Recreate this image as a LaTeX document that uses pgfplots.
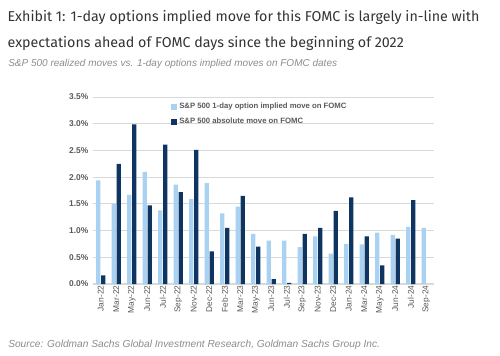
\documentclass[border=0pt]{standalone}
\usepackage{pgfplots}
\pgfplotsset{compat=1.18}
\usepackage{fontspec}
\setmainfont{Liberation Sans}
\newfontfamily\titlefont{Fira Sans}
\definecolor{lightb}{HTML}{A9D1F1}
\definecolor{darkb}{HTML}{0E3461}
\definecolor{txtgrey}{HTML}{595959}
\definecolor{gridgrey}{HTML}{D9D9D9}
\definecolor{titlegrey}{HTML}{333333}
\definecolor{subgrey}{HTML}{8C8C8C}
\begin{document}
\begin{tikzpicture}
\path[use as bounding box] (0pt,0pt) rectangle (375pt,266.25pt);
\node[anchor=west,inner sep=0,text=titlegrey,font=\titlefont\fontsize{10.7}{12}\selectfont] at (5.5pt,253pt) {Exhibit 1: 1-day options implied move for this FOMC is largely in-line with};
\node[anchor=west,inner sep=0,text=titlegrey,font=\titlefont\fontsize{10.7}{12}\selectfont] at (5.5pt,234pt) {expectations ahead of FOMC days since the beginning of 2022};
\node[anchor=west,inner sep=0,text=subgrey,font=\itshape\fontsize{7.5}{9}\selectfont] at (6pt,218.5pt) {S\&P 500 realized moves vs. 1-day options implied moves on FOMC dates};
\node[anchor=west,inner sep=0,text=subgrey,font=\itshape\fontsize{7.65}{9}\selectfont] at (6pt,7.5pt) {Source: Goldman Sachs Global Investment Research, Goldman Sachs Group Inc.};
\begin{axis}[
  at={(69.75pt,53.25pt)}, anchor=south west,
  scale only axis, width=255.75pt, height=140.25pt,
  ybar=0.5pt, bar width=3.3pt,
  xmin=-0.5, xmax=21.5, ymin=0, ymax=3.5,
  xtick={0,...,21},
  xticklabels={Jan-22,Mar-22,May-22,Jun-22,Jul-22,Sep-22,Nov-22,Dec-22,Feb-23,Mar-23,May-23,Jun-23,Jul-23,Sep-23,Nov-23,Dec-23,Jan-24,Mar-24,May-24,Jun-24,Jul-24,Sep-24},
  x tick label style={rotate=90,anchor=east,font=\fontsize{6.3}{7}\selectfont,text=txtgrey,inner sep=1pt},
  ytick={0,0.5,...,3.5},
  yticklabels={0.0\%,0.5\%,1.0\%,1.5\%,2.0\%,2.5\%,3.0\%,3.5\%},
  y tick label style={font=\bfseries\fontsize{6.3}{7}\selectfont,text=txtgrey},
  ymajorgrids, grid style={gridgrey,line width=0.6pt},
  axis x line*=bottom, axis y line*=left,
  x axis line style={gridgrey,line width=0.8pt},
  y axis line style={draw=none},
  major tick length=0pt,
  tick style={draw=none},
  legend style={at={(0.225,0.99)},anchor=north west,draw=none,fill=none,
    font=\bfseries\fontsize{5.8}{7}\selectfont,text=txtgrey,row sep=1.5pt,inner sep=1pt},
  legend cell align=left,
  legend image code/.code={\fill[#1] (0pt,-2pt) rectangle (4pt,2pt);},
]
\addplot[fill=lightb,draw=none] coordinates {
(0,1.94) (1,1.50) (2,1.67) (3,2.10) (4,1.38) (5,1.86) (6,1.59) (7,1.89) (8,1.32) (9,1.45) (10,0.94)
(11,0.81) (12,0.81) (13,0.69) (14,0.89) (15,0.57) (16,0.75) (17,0.74) (18,0.96) (19,0.92) (20,1.07) (21,1.05)};
\addplot[fill=darkb,draw=none] coordinates {
(0,0.16) (1,2.25) (2,2.99) (3,1.47) (4,2.61) (5,1.72) (6,2.51) (7,0.61) (8,1.05) (9,1.65) (10,0.70)
(11,0.09) (12,0.02) (13,0.94) (14,1.05) (15,1.37) (16,1.62) (17,0.89) (18,0.35) (19,0.85) (20,1.57)};
\legend{S\&P 500 1-day option implied move on FOMC, S\&P 500 absolute move on FOMC}
\end{axis}
\end{tikzpicture}
\end{document}
